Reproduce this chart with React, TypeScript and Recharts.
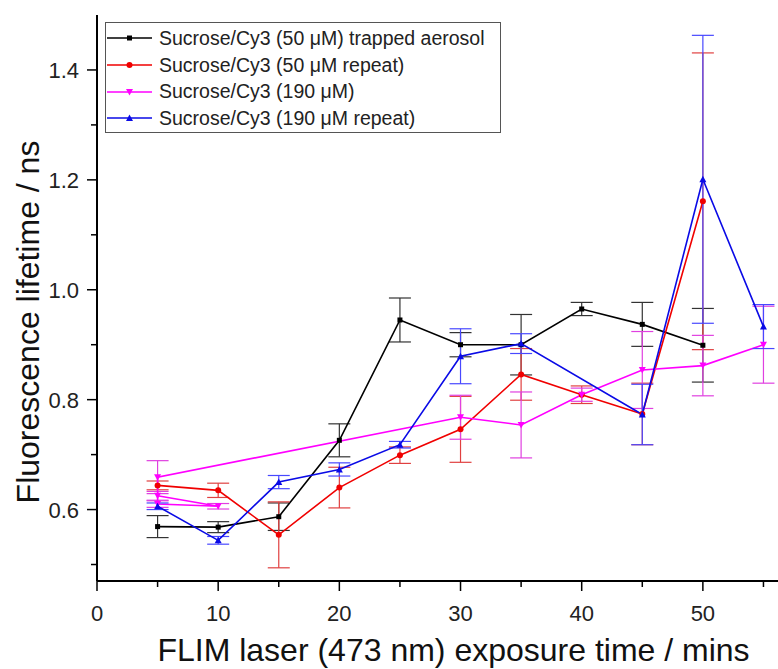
import React from 'react';
import { LineChart, Line, XAxis, YAxis, ErrorBar, Legend, Label } from 'recharts';

// exposure time (mins) for each series
const trappedX = [5, 10, 15, 20, 25, 30, 35, 40, 45, 50];
const trappedY = [0.569, 0.568, 0.587, 0.726, 0.945, 0.9, 0.9, 0.965, 0.937, 0.899];
const trappedErr = [0.02, 0.01, 0.025, 0.03, 0.04, 0.022, 0.055, 0.012, 0.04, 0.067];

const repeat50X = [5, 10, 15, 20, 25, 30, 35, 40, 45, 50];
const repeat50Y = [0.644, 0.635, 0.554, 0.64, 0.699, 0.746, 0.846, 0.809, 0.774, 1.161];
const repeat50Err = [0.008, 0.013, 0.06, 0.037, 0.015, 0.06, 0.047, 0.016, 0.056, 0.27];

// plotted in file order, so the 5 / 10 min points double back
const conc190X = [5, 10, 5, 5, 30, 35, 40, 45, 50, 55];
const conc190Y = [0.625, 0.606, 0.61, 0.659, 0.768, 0.754, 0.809, 0.854, 0.862, 0.9];
const conc190Err = [0.008, 0.005, 0.006, 0.03, 0.04, 0.06, 0.012, 0.07, 0.055, 0.07];

const repeat190X = [5, 10, 15, 20, 25, 30, 35, 45, 50, 55];
const repeat190Y = [0.606, 0.544, 0.65, 0.673, 0.718, 0.879, 0.902, 0.773, 1.201, 0.933];
const repeat190Err = [0.006, 0.007, 0.012, 0.012, 0.006, 0.05, 0.018, 0.055, 0.262, 0.04];

const xTicks = [0, 5, 10, 15, 20, 25, 30, 35, 40, 45, 50, 55];
const yTicks = [0.5, 0.6, 0.7, 0.8, 0.9, 1.0, 1.1, 1.2, 1.3, 1.4];

const FONT = 'Arial, "Liberation Sans", sans-serif';

const toPoints = (xs: number[], ys: number[], errs: number[]) =>
  xs.map((x, i) => ({ x, y: ys[i], err: errs[i] }));

type Marker = 'square' | 'circle' | 'down' | 'up';

function MarkerShape({ cx, cy, kind, color }: { cx: number; cy: number; kind: Marker; color: string }) {
  if (cx == null || cy == null) return null;
  if (kind === 'square') return <rect x={cx - 2.5} y={cy - 2.5} width={5} height={5} fill={color} />;
  if (kind === 'circle') return <circle cx={cx} cy={cy} r={3} fill={color} />;
  if (kind === 'down')
    return <polygon points={`${cx - 3.5},${cy - 3} ${cx + 3.5},${cy - 3} ${cx},${cy + 3.5}`} fill={color} />;
  return <polygon points={`${cx - 3.5},${cy + 3} ${cx + 3.5},${cy + 3} ${cx},${cy - 3.5}`} fill={color} />;
}

const series = [
  { name: 'Sucrose/Cy3 (50 \u03bcM) trapped aerosol', color: '#000000', bar: '#333333', marker: 'square' as Marker, data: toPoints(trappedX, trappedY, trappedErr) },
  { name: 'Sucrose/Cy3 (50 \u03bcM repeat)', color: '#f00000', bar: '#e04040', marker: 'circle' as Marker, data: toPoints(repeat50X, repeat50Y, repeat50Err) },
  { name: 'Sucrose/Cy3 (190 \u03bcM)', color: '#ff00ff', bar: '#e040e0', marker: 'down' as Marker, data: toPoints(conc190X, conc190Y, conc190Err) },
  { name: 'Sucrose/Cy3 (190 \u03bcM repeat)', color: '#0a0ae6', bar: '#4848ff', marker: 'up' as Marker, data: toPoints(repeat190X, repeat190Y, repeat190Err) },
];

function XTick(props: any) {
  const { x, y, payload } = props;
  const axisY = y - 10;
  const major = payload.value % 10 === 0;
  return (
    <g>
      <line x1={x} y1={axisY} x2={x} y2={axisY + (major ? 10 : 6)} stroke="#000" strokeWidth={1.5} />
      {major && (
        <text x={x} y={axisY + 40} textAnchor="middle" fontSize={22} fontFamily={FONT} fill="#222">
          {payload.value}
        </text>
      )}
    </g>
  );
}

function YTick(props: any) {
  const { x, y, payload } = props;
  const axisX = x + 10;
  const major = Math.round(payload.value * 10) % 2 === 0;
  return (
    <g>
      <line x1={axisX} y1={y} x2={axisX - (major ? 10 : 6)} y2={y} stroke="#000" strokeWidth={1.5} />
      {major && (
        <text x={axisX - 18} y={y + 8} textAnchor="end" fontSize={22} fontFamily={FONT} fill="#222">
          {payload.value.toFixed(1)}
        </text>
      )}
    </g>
  );
}

function LegendBox() {
  return (
    <div
      style={{
        border: '1px solid #555',
        background: '#fff',
        width: 394,
        padding: '2px 0 0 0',
        fontFamily: FONT,
        fontSize: 19.5,
        color: '#222',
      }}
    >
      {series.map((s) => (
        <div key={s.name} style={{ display: 'flex', alignItems: 'center', height: 26.7 }}>
          <svg width={52} height={20} style={{ marginLeft: 1 }}>
            <line x1={0} y1={10} x2={45} y2={10} stroke={s.color} strokeWidth={1.5} />
            <MarkerShape cx={22.5} cy={10} kind={s.marker} color={s.color} />
          </svg>
          <span style={{ marginLeft: 0, whiteSpace: 'nowrap' }}>{s.name}</span>
        </div>
      ))}
    </div>
  );
}

export default function App() {
  return (
    <div style={{ position: 'absolute', left: 0, top: 0, background: '#fff' }}>
      <LineChart width={778} height={669} margin={{ top: 15, right: 0, bottom: 0, left: 0 }}>
        <XAxis
          dataKey="x"
          type="number"
          domain={[0, 56.2]}
          ticks={xTicks}
          allowDataOverflow
          height={88}
          tickSize={10}
          tickMargin={0}
          tickLine={false}
          tick={<XTick />}
          interval={0}
          axisLine={{ stroke: '#000', strokeWidth: 2 }}
        >
          <Label
            content={({ viewBox }: any) => (
              <text
                x={viewBox.x + viewBox.width / 2 + 16}
                y={viewBox.y + 80}
                textAnchor="middle"
                fontSize={32}
                fontFamily={FONT}
                fill="#111"
              >
                FLIM laser (473 nm) exposure time / mins
              </text>
            )}
          />
        </XAxis>
        <XAxis xAxisId="top" orientation="top" type="number" domain={[0, 56.2]} height={0} tick={false} tickLine={false} axisLine={{ stroke: '#000', strokeWidth: 2 }} />
        <YAxis
          dataKey="y"
          type="number"
          domain={[0.47, 1.5]}
          ticks={yTicks}
          allowDataOverflow
          width={97}
          tickSize={10}
          tickMargin={0}
          tickLine={false}
          tick={<YTick />}
          interval={0}
          axisLine={{ stroke: '#000', strokeWidth: 2 }}
        >
          <Label
            content={({ viewBox }: any) => (
              <text
                transform={`translate(${viewBox.x + 39},${viewBox.y + viewBox.height / 2 + 24}) rotate(-90)`}
                textAnchor="middle"
                fontSize={32}
                fontFamily={FONT}
                fill="#111"
              >
                Fluorescence lifetime / ns
              </text>
            )}
          />
        </YAxis>
        <Legend
          layout="horizontal"
          verticalAlign="middle"
          content={() => <LegendBox />}
          wrapperStyle={{ left: 105, top: 22, width: 'auto' }}
        />
        {series.map((s) => (
          <Line
            key={s.name}
            name={s.name}
            data={s.data}
            dataKey="y"
            stroke={s.color}
            strokeWidth={1.6}
            isAnimationActive={false}
            dot={(p: any) => <MarkerShape key={`${s.name}-${p.index}`} cx={p.cx} cy={p.cy} kind={s.marker} color={s.color} />}
            activeDot={false}
          >
            <ErrorBar dataKey="err" direction="y" width={11} stroke={s.bar} strokeWidth={1.2} />
          </Line>
        ))}
      </LineChart>
    </div>
  );
}
